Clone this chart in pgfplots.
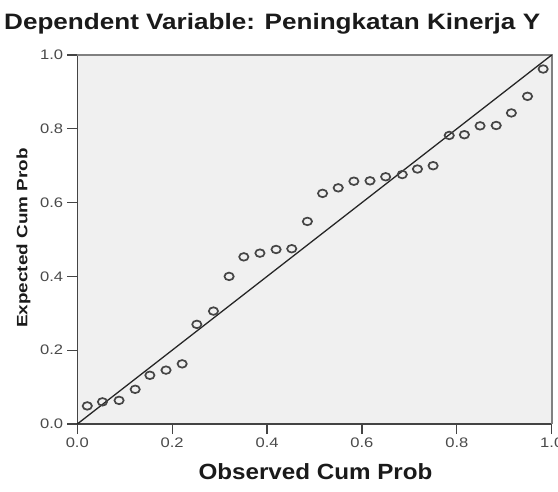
\documentclass[border=0pt]{standalone}
\usepackage{fontspec}
\setmainfont{Liberation Sans}
\usepackage{graphicx}
\usepackage{pgfplots}
\pgfplotsset{compat=1.18}
\definecolor{bgc}{HTML}{F0F0F0}
\definecolor{boxgray}{HTML}{808080}
\definecolor{axdark}{HTML}{444444}
\definecolor{tickc}{HTML}{444444}
\definecolor{labc}{HTML}{4A4A4A}
\definecolor{markc}{HTML}{454545}
\definecolor{titlec}{HTML}{1A1A1A}
\newcommand{\tl}[1]{\scalebox{1.2}[1]{#1}}
\begin{document}
\begin{tikzpicture}
\path[use as bounding box] (-77.3pt,-67pt) rectangle (480.7pt,424pt);
\begin{axis}[
  at={(0pt,0pt)}, anchor=south west,
  scale only axis, width=474.4pt, height=369pt,
  xmin=0, xmax=1, ymin=0, ymax=1,
  clip=false,
  axis x line*=bottom, axis y line*=left,
  axis line style={-, draw=axdark, line width=1.4pt},
  axis background/.style={fill=bgc},
  tick align=outside,
  major tick length=10pt,
  every tick/.append style={draw=tickc, line width=1.2pt},
  xtick={0,0.2,0.4,0.6,0.8,1},
  ytick={0,0.2,0.4,0.6,0.8,1},
  xticklabels={\tl{0.0},\tl{0.2},\tl{0.4},\tl{0.6},\tl{0.8},\tl{1.0}},
  yticklabels={\tl{0.0},\tl{0.2},\tl{0.4},\tl{0.6},\tl{0.8},\tl{1.0}},
  xticklabel style={font=\fontsize{13.8}{14}\selectfont, text=labc, anchor=north, inner sep=0pt},
  yticklabel style={font=\fontsize{13.8}{14}\selectfont, text=labc, anchor=east, inner sep=0pt},
  xticklabel shift=4pt,
  yticklabel shift=4pt,
]
\draw[boxgray, line width=1.6pt] (rel axis cs:0,1) -- (rel axis cs:1,1) -- (rel axis cs:1,0);
\addplot[draw=black!85, line width=1.3pt, no marks] coordinates {(0,0) (1,1)};
\addplot[only marks, mark=o, mark size=3.8pt, mark options={xscale=1.22, draw=markc, line width=1.7pt}] coordinates {
(0.021,0.049) (0.053,0.060) (0.088,0.064) (0.122,0.094) (0.153,0.132)
(0.187,0.146) (0.221,0.163) (0.252,0.270) (0.287,0.306) (0.320,0.400)
(0.351,0.453) (0.385,0.463) (0.419,0.473) (0.452,0.475) (0.485,0.549)
(0.517,0.625) (0.550,0.640) (0.583,0.658) (0.617,0.659) (0.650,0.670)
(0.685,0.676) (0.717,0.691) (0.750,0.700) (0.784,0.782) (0.816,0.784)
(0.849,0.808) (0.883,0.809) (0.915,0.843) (0.949,0.888) (0.982,0.962)
};
\end{axis}
\node[anchor=base west, inner sep=0pt, text=titlec, font=\bfseries\fontsize{22.3}{24}\selectfont] at (-73.3pt,394.7pt) {\scalebox{1.17}[1]{Dependent Variable: Peningkatan Kinerja Y}};
\node[anchor=base, inner sep=0pt, text=titlec, font=\bfseries\fontsize{22}{24}\selectfont] at (238.2pt,-55.3pt) {\scalebox{1.1}[1]{Observed Cum Prob}};
\node[rotate=90, anchor=base, inner sep=0pt, text=titlec, font=\bfseries\fontsize{15}{16}\selectfont] at (-50pt,186pt) {\scalebox{1.26}[1]{Expected Cum Prob}};
\end{tikzpicture}
\end{document}
